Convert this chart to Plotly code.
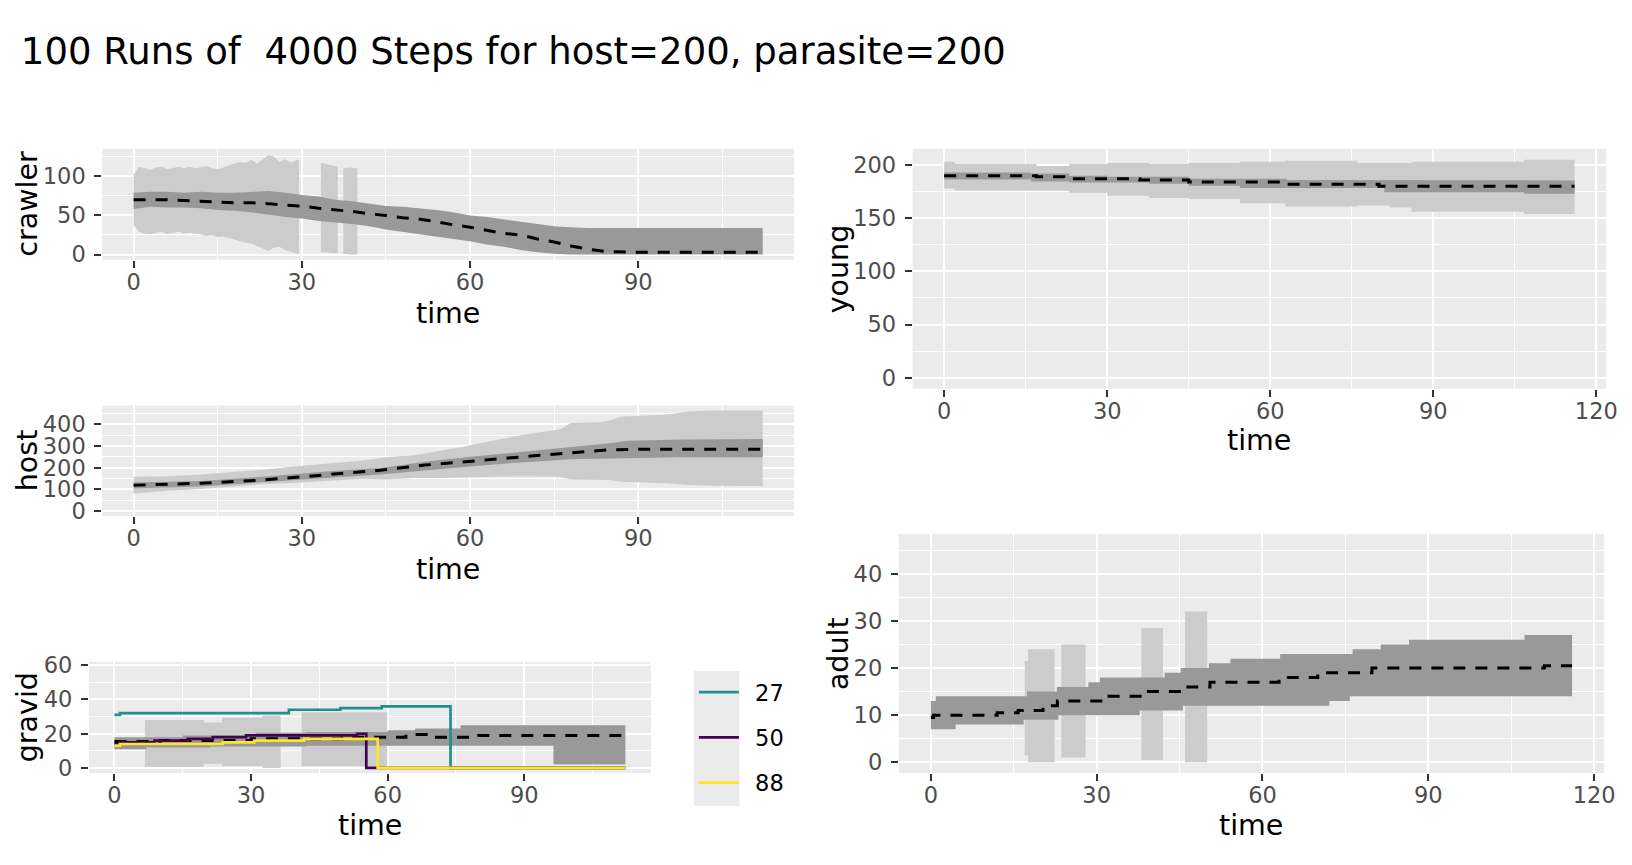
import plotly.graph_objects as go

W, H = 1632, 865
FONT = "DejaVu Sans"
LIGHT = "#CCCCCC"
DARK = "#999999"

# ---- crawler (light band has gaps -> None) ----
crawler_out_t = [0, 1, 2, 3, 4, 5, 6, 7, 8, 9, 10, 11, 12, 13, 14, 15, 16, 17, 18, 19, 20,
                 21, 22, 23, 24, 25, 26, 27, 28, 29, 29.5, None, 33.4, 34.5, 35.5, 36.4,
                 None, 37.4, 38.5, 39.9]
crawler_out_hi = [102, 112, 110, 108, 111, 112, 109, 111, 112, 110, 112, 110, 111, 113, 110, 109,
                  111, 114, 116, 118, 117, 121, 116, 122, 127, 125, 118, 122, 117, 120, 121, None,
                  117, 115, 113, 112, None, 110, 111, 110]
crawler_out_lo = [37, 29, 27, 26, 28, 29, 26, 28, 29, 27, 28, 27, 26, 24, 25, 22, 23, 21, 19, 17,
                  15, 14, 12, 8, 5, 9, 10, 6, 3, 1, 0, None, 3, 3, 2, 2, None, 1, 0, 0]
crawler_in_t = [0, 3, 6, 9, 12, 15, 18, 21, 24, 27, 30, 33, 36, 39, 42, 45, 48, 51, 54, 57, 60,
                63, 66, 69, 72, 75, 78, 81, 90, 100, 112.2]
crawler_in_hi = [79, 80, 80, 79, 80, 79, 79, 80, 81, 79, 76, 74, 70, 68, 65, 62, 61, 59, 57, 54,
                 50, 48, 45, 42, 39, 36, 35, 34, 34, 34, 34]
crawler_in_lo = [58, 61, 60, 60, 59, 57, 56, 54, 51, 48, 46, 43, 41, 39, 36, 32, 29, 26, 23, 20,
                 17, 13, 10, 6, 3, 1, 0, 0, 0, 0, 0]
crawler_med_t = [0, 3, 6, 9, 12, 15, 18, 21, 24, 27, 30, 33, 36, 39, 42, 45, 48, 51, 54, 57, 60,
                 63, 66, 69, 72, 75, 78, 81, 84, 90, 100, 112.2]
crawler_med = [70, 70, 70, 69, 68, 67, 66, 66, 65, 63, 62, 59, 57, 55, 52, 50, 47, 45, 42, 38, 35,
               31, 27, 25, 20, 16, 11, 7, 4, 3, 3, 3]

# ---- host ----
host_out_t = [0, 6, 12, 17, 23, 30, 35, 41, 45, 50, 55, 59, 64, 70, 76, 78, 83, 85, 87, 90, 95,
              99, 103, 112.2]
host_out_hi = [158, 160, 169, 179, 191, 209, 221, 233, 248, 258, 280, 298, 325, 355, 377, 407, 410,
               418, 437, 440, 445, 460, 464, 464]
host_out_lo = [79, 94, 101, 113, 124, 131, 139, 149, 146, 152, 152, 154, 158, 161, 158, 146, 143,
               143, 135, 131, 128, 120, 116, 115]
host_in_t = [0, 12, 23, 35, 44, 52, 60, 67, 76, 78, 85, 88, 98, 112.2]
host_in_hi = [131, 139, 158, 184, 199, 228, 250, 268, 292, 298, 313, 325, 330, 333]
host_in_lo = [105, 113, 131, 154, 169, 188, 206, 221, 236, 239, 243, 246, 248, 248]
host_med_t = [0, 12, 23, 35, 44, 52, 60, 67, 76, 85, 90, 112.2]
host_med = [119, 128, 143, 169, 188, 212, 230, 248, 265, 283, 285, 285]

# ---- gravid ----
gravid_out_t = [6.7, 19.6, 23.6, 32.5, 36.5, None, 41.1, 59.9]
gravid_out_hi = [28, 26.5, 29.5, 30.5, 30.5, None, 32.5, 32.5]
gravid_out_lo = [0.5, 2.5, 1, 0, 0, None, 1, 1]
gravid_in_t = [0, 7, 15, 21, 31, 42, 60, 66, 76, 96.4, 112.2]
gravid_in_hi = [18, 18, 19, 19, 20.5, 21, 22, 23, 25, 25, 25]
gravid_in_lo = [11, 12, 12, 12.5, 12.5, 13, 13, 13, 13, 2, 2]
gravid_med_t = [0, 10, 30, 50, 64, 70, 80, 112.2]
gravid_med = [15.5, 16, 17, 18, 19.5, 18, 19, 19]

run_ids = ["27", "50", "88"]
run_colors = ["#21908C", "#440154", "#FDE725"]
run27_t = [0, 1.2, 38.3, 49.6, 58.7, 73.8, 112.2]
run27 = [31, 32, 34, 35, 36, 0, 0]
run50_t = [0, 1.2, 8.8, 16.1, 21.6, 28.9, 53.3, 55.3, 112.2]
run50 = [14, 15, 16, 17, 18, 19, 20, 0, 0]
run88_t = [0, 1.2, 23.8, 30.7, 41.6, 57.8, 112.2]
run88 = [13, 14, 15, 16, 17, 0, 0]

# ---- young ----
young_out_t = [0, 2, 17, 23, 30, 37.7, 45, 54.4, 62.8, 76, 82, 86, 106.7, 116]
young_out_hi = [203, 201, 199, 201, 202, 201, 202, 203, 204, 202, 202, 203, 205, 205]
young_out_lo = [178, 176, 176, 174, 171, 169, 168, 164, 161, 162, 160, 156, 154, 154]
young_in_t = [0, 16, 23, 30, 37.7, 45, 54.4, 63, 81, 86, 106.7, 116]
young_in_hi = [193, 192, 190, 189, 189, 187, 187, 186, 186, 185.5, 185.5, 185.5]
young_in_lo = [186.5, 184.5, 183.5, 183.5, 182.5, 180.5, 178.5, 178.5, 174.5, 174.5, 173, 173]
young_med_t = [0, 17, 22, 36, 45, 62, 80, 116]
young_med = [190, 189, 187, 186, 184, 182, 180, 180]

# ---- adult ----
adult_out_t = [17.0, 17.6, 22.4, None, 23.6, 28.0, None, 38.1, 42.0, None, 46.0, 50.0]
adult_out_hi = [21.5, 24, 24, None, 25, 25, None, 28.5, 28.5, None, 32, 32]
adult_out_lo = [1.5, 0, 0, None, 1, 1, None, 0.5, 0.5, None, 0, 0]
adult_in_t = [0, 0.9, 4.5, 16.8, 17.4, 22.8, 23.1, 28.5, 30.6, 37.8, 42.3, 45.2, 45.6, 50.3,
              54.2, 63.2, 72.1, 75.8, 76.3, 81.4, 86.5, 107.4, 116]
adult_in_hi = [13, 14, 14, 14, 15, 16, 16, 17, 18, 18, 19, 20, 20, 21, 22, 23, 23, 23, 24, 25,
               26, 27, 27]
adult_in_lo = [7, 7, 8, 9, 9, 9, 10, 10, 10, 11, 11, 11, 12, 12, 12, 12, 13, 14, 14, 14, 14,
               14, 14]
adult_med_t = [0, 0.5, 12, 15.8, 20.3, 22.9, 31.4, 38.9, 46.5, 50.5, 63, 70, 79.8, 111, 116]
adult_med = [9.5, 10, 10.5, 11, 12, 13, 14, 15, 16, 17, 18, 19, 20, 20.5, 20.5]


def step_path(t, v):
    xs, ys = [], []
    for i in range(len(t)):
        if i > 0:
            xs.append(t[i])
            ys.append(v[i - 1])
        xs.append(t[i])
        ys.append(v[i])
    return xs, ys


def segments(t, lo, hi):
    segs, cur = [], ([], [], [])
    for a, b, c in zip(t, lo, hi):
        if a is None:
            segs.append(cur)
            cur = ([], [], [])
        else:
            cur[0].append(a)
            cur[1].append(b)
            cur[2].append(c)
    segs.append(cur)
    return segs


def ribbon(t, lo, hi, color, n, step=False):
    xs, ys = [], []
    for st, sl, sh in segments(t, lo, hi):
        if step:
            ux, uy = step_path(st, sh)
            lx, ly = step_path(st, sl)
        else:
            ux, uy, lx, ly = st, sh, st, sl
        xs += list(ux) + list(lx)[::-1] + [None]
        ys += list(uy) + list(ly)[::-1] + [None]
    return go.Scatter(x=xs, y=ys, xaxis="x%d" % n, yaxis="y%d" % n, mode="lines",
                      fill="toself", fillcolor=color, line=dict(width=0),
                      hoverinfo="skip", showlegend=False)


def median(t, v, n, step=False):
    return go.Scatter(x=t, y=v, xaxis="x%d" % n, yaxis="y%d" % n, mode="lines",
                      line=dict(color="black", width=3, dash="12px,10px",
                                shape="hv" if step else "linear"),
                      hoverinfo="skip", showlegend=False)


fig = go.Figure()

# 1 crawler, 2 host, 3 gravid, 4 young, 5 adult
fig.add_trace(ribbon(crawler_out_t, crawler_out_lo, crawler_out_hi, LIGHT, 1))
fig.add_trace(ribbon(crawler_in_t, crawler_in_lo, crawler_in_hi, DARK, 1))
fig.add_trace(median(crawler_med_t, crawler_med, 1))

fig.add_trace(ribbon(host_out_t, host_out_lo, host_out_hi, LIGHT, 2))
fig.add_trace(ribbon(host_in_t, host_in_lo, host_in_hi, DARK, 2))
fig.add_trace(median(host_med_t, host_med, 2))

fig.add_trace(ribbon(gravid_out_t, gravid_out_lo, gravid_out_hi, LIGHT, 3, step=True))
fig.add_trace(ribbon(gravid_in_t, gravid_in_lo, gravid_in_hi, DARK, 3, step=True))
fig.add_trace(median(gravid_med_t, gravid_med, 3, step=True))
for rid, col, rt, rv in zip(run_ids, run_colors, [run27_t, run50_t, run88_t], [run27, run50, run88]):
    # en space in front of the label: ggplot leaves a wider gap after the key
    fig.add_trace(go.Scatter(x=rt, y=rv, xaxis="x3", yaxis="y3", mode="lines",
                             name="\u2002" + rid, legendgroup=rid,
                             line=dict(color=col, width=2.7, shape="hv")))

fig.add_trace(ribbon(young_out_t, young_out_lo, young_out_hi, LIGHT, 4, step=True))
fig.add_trace(ribbon(young_in_t, young_in_lo, young_in_hi, DARK, 4, step=True))
fig.add_trace(median(young_med_t, young_med, 4, step=True))

fig.add_trace(ribbon(adult_out_t, adult_out_lo, adult_out_hi, LIGHT, 5, step=True))
fig.add_trace(ribbon(adult_in_t, adult_in_lo, adult_in_hi, DARK, 5, step=True))
fig.add_trace(median(adult_med_t, adult_med, 5, step=True))

# panel boxes in px: left, right, top, bottom
panels = {
    1: ((103, 800, 141.7, 255), [-5.6, 117.8], [-6.5, 135], 50),
    2: ((103, 800, 404, 516.7), [-5.6, 117.8], [-23, 487], 100),
    3: ((89.6, 655.7, 665.7, 779.3), [-5.6, 117.8], [-3, 62], 20),
    4: ((919.4, 1618, 141.7, 386.7), [-5.8, 121.8], [-10.3, 215.3], 50),
    5: ((905.4, 1616, 535, 779.3), [-5.8, 121.8], [-2.3, 48.5], 10),
}
tickfont = dict(family=FONT, size=22.5, color="#4D4D4D")
layout_axes = {}
for n, (box, xr, yr, ydt) in panels.items():
    l, r, t, b = box
    common = dict(showline=False, zeroline=False, ticks="outside", ticklen=7, tickwidth=2.2,
                  tickcolor="#333333", tickfont=tickfont, showgrid=True, gridcolor="white",
                  gridwidth=2.2, fixedrange=True)
    layout_axes["xaxis%d" % n] = dict(domain=[l / W, r / W], range=xr, anchor="y%d" % n,
                                      tick0=0, dtick=30, ticklabelstandoff=-5,
                                      minor=dict(dtick=15, tick0=0, showgrid=True,
                                                 gridcolor="white", gridwidth=1.1),
                                      **common)
    layout_axes["yaxis%d" % n] = dict(domain=[1 - b / H, 1 - t / H], range=yr, anchor="x%d" % n,
                                      tick0=0, dtick=ydt, ticklabelstandoff=4,
                                      minor=dict(dtick=ydt / 2, tick0=0, showgrid=True,
                                                 gridcolor="white", gridwidth=1.1),
                                      **common)

titles = [
    ("time", 451.5, 310, 0), ("time", 451.5, 571, 0), ("time", 372.7, 833, 0),
    ("time", 1268.7, 440, 0), ("time", 1260.7, 833, 0),
    ("crawler", 28, 198, -90), ("host", 28, 460, -90), ("gravid", 28, 722.5, -90),
    ("young", 845, 264, -90), ("adult", 845, 657, -90),
]
annotations = [dict(text=s, x=x / W, y=1 - y / H, xref="paper", yref="paper", xanchor="center",
                    yanchor="middle", showarrow=False, textangle=a,
                    font=dict(family=FONT, size=28.5, color="black"))
               for s, x, y, a in titles]

fig.update_layout(
    width=W, height=H, autosize=False,
    margin=dict(l=0, r=0, t=0, b=0),
    paper_bgcolor="white", plot_bgcolor="#EBEBEB",
    font=dict(family=FONT, color="black"),
    title=dict(text="100 Runs of \u00a04000 Steps for host=200, parasite=200",
               x=21 / W, xref="paper", xanchor="left", y=1 - 41.6 / H, yref="paper",
               yanchor="middle", font=dict(family=FONT, size=37, color="black")),
    annotations=annotations,
    legend=dict(x=699 / W, xanchor="left", y=1 - 675 / H, yanchor="top",
                font=dict(family=FONT, size=22.5, color="black"), bgcolor="rgba(0,0,0,0)",
                itemwidth=40, tracegroupgap=13, traceorder="grouped"),
    shapes=[dict(type="rect", xref="paper", yref="paper", x0=699 / W, x1=745 / W,
                 y0=1 - 813 / H, y1=1 - 675 / H, fillcolor="#EBEBEB", line=dict(width=0),
                 layer="below")],
    **layout_axes,
)

# pin the 1632x865 figure to the top-left corner of the window
pin = ("document.documentElement.style.overflow='hidden';"
       "document.body.style.margin='0px';"
       "var g=document.getElementById('{plot_id}');"
       "g.style.position='fixed';g.style.left='0px';g.style.top='0px';")
fig.write_html("out.html", config={"displayModeBar": False}, post_script=pin)
